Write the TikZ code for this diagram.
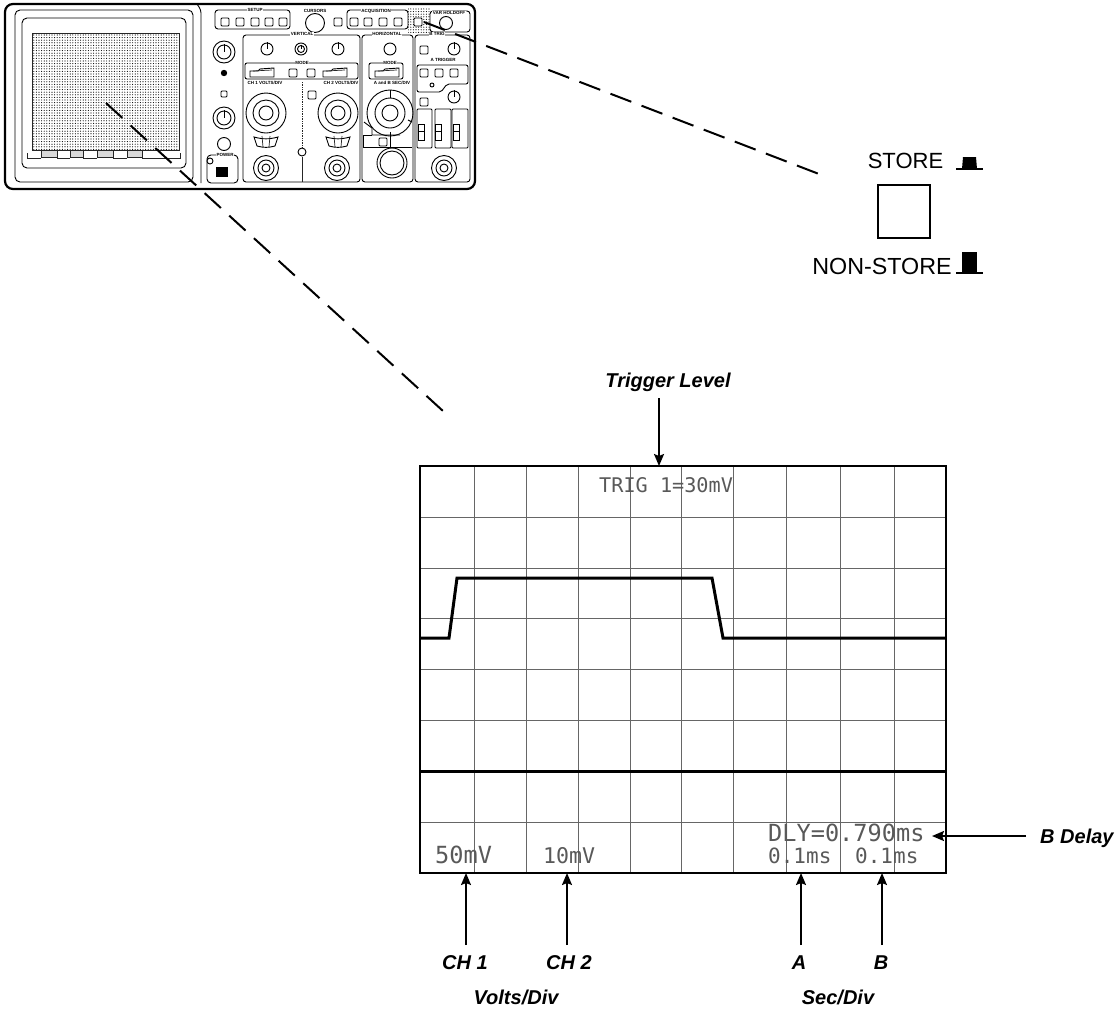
\documentclass[tikz,border=0pt]{standalone}
\usepackage{fontspec}
\setmainfont{Liberation Sans}
\newfontfamily\lcdfont{DejaVu Sans Mono}
\usetikzlibrary{arrows.meta,patterns.meta}
\tikzset{
  every picture/.style={x=1pt,y=-1pt},
  grida/.style={line width=1pt,black!60},
  trace/.style={line width=3pt,line join=miter},
  arr/.style={line width=1.8pt,-{Stealth[length=12pt,width=10pt,inset=2pt]}},
  dasha/.style={line width=2pt,dash pattern=on 22pt off 11.4pt},
  dashc/.style={line width=2pt,dash pattern=on 22.3pt off 11pt},
  lbl/.style={font=\fontsize{20}{22}\selectfont\bfseries\itshape,inner sep=0pt},
  plain/.style={font=\fontsize{#1}{26}\selectfont,inner sep=0pt},
  lcd/.style={font=\lcdfont\fontsize{#1}{24}\selectfont,text=black!65,inner sep=0pt,anchor=base west},
  tiny/.style={font=\fontsize{4.5}{5}\selectfont\bfseries,inner sep=0.6pt,fill=white},
  pline/.style={line width=0.9pt},
  pthin/.style={line width=0.7pt,black!85},
}
\newcommand{\sqb}[2]{\draw[pline,rounded corners=1pt] (#1-4,#2-4) rectangle (#1+4,#2+4);}
\newcommand{\knb}[3]{\draw[pline] (#1,#2) circle[radius=#3]; \draw[pline] (#1,#2-#3-1) -- (#1,#2);}
\newcommand{\bnc}[2]{\draw[pline] (#1,#2) circle[radius=12.5] (#1,#2) circle[radius=8] (#1,#2) circle[radius=4];}
\newcommand{\bigk}[2]{\draw[pline] (#1,#2) circle[radius=20] (#1,#2) circle[radius=13] (#1,#2) circle[radius=7];
  \draw[pline] (#1-12,#2+24) -- (#1-9,#2+33) to[bend right=15] (#1+9,#2+33) -- (#1+12,#2+24) to[bend left=15] cycle;
  \draw[pthin] (#1-4,#2+23) -- (#1-3,#2+34) (#1+4,#2+23) -- (#1+3,#2+34);}
\newcommand{\slider}[2]{\draw[pline] (#1,#2+8) -- (#1,#2+2) -- (#1+8,#2+2) -- (#1+10,#2) -- (#1+24,#2-1) -- (#1+24,#2+8) -- cycle; \draw[pthin] (#1+3,#2+2) -- (#1+22,#2+1);}
\begin{document}
\begin{tikzpicture}
\useasboundingbox (0,0) rectangle (1118,1010);
% ---------- instrument ----------
\draw[line width=2.2pt,rounded corners=8pt] (5,4) rectangle (475,189);
\draw[pline,rounded corners=5pt] (15,10) rectangle (193,182);
\draw[pline,rounded corners=3pt] (197,4) -- (201,10) -- (201,183);
\draw[pline,rounded corners=5pt] (22,18) rectangle (186,168);
\path[pattern={Dots[distance=2.6pt,radius=0.56pt]},pattern color=black] (32,33) rectangle (179,150);
\draw[pthin] (32,33) rectangle (179,150);
\foreach \a/\b in {41/57,70/83,97/113,127/142} {\draw[pthin,fill=black!15] (\a,150) rectangle (\b,157);}
\draw[pthin] (27,153) -- (27,158) -- (41,158) (57,158) -- (70,158) (83,158) -- (97,158) (113,158) -- (127,158) (142,158) -- (180,158) -- (180,153);
% left column
\draw[pline] (224,52) circle[radius=11]; \knb{224}{52}{7}
\fill (224,73) circle[radius=3.2];
\draw[pline,rounded corners=1pt] (221,91) rectangle (227,97);
\draw[pline] (224,118) circle[radius=11]; \knb{224}{118}{7}
\draw[pline] (224,144) circle[radius=6.5];
% power
\draw[pline,rounded corners=4pt] (207,155) rectangle (238,183);
\node[tiny] (powerlab) at (225,155) {POWER};
\draw[pline,fill=white] (210,161) circle[radius=3];
\fill (216,167) rectangle (228,177);
% setup
\draw[pline,rounded corners=3pt] (215,10) rectangle (290,29);
\node[tiny] (setuplab) at (255,10) {SETUP};
\foreach \x in {225,240,255,269,283} {\sqb{\x}{22}}
\draw[pline] (315,23) circle[radius=9.5];
\node[tiny] (cursorlab) at (315,11) {CURSORS};
\sqb{338}{22}
% acquisition
\draw[pline,rounded corners=3pt] (347,10) rectangle (408,29);
\node[tiny] (acqlab) at (376,11) {ACQUISITION};
\foreach \x in {354,368,383,398} {\sqb{\x}{22}}
\path[pattern={Dots[distance=2.6pt,radius=0.56pt]},pattern color=black] (408,7) rectangle (430,32);
\fill[white] (414,18) rectangle (422,26);
\sqb{418}{22}
\draw[pline,rounded corners=3pt] (430,11) -- (470,11) -- (470,32) -- (430,32) -- cycle;
\node[tiny] (holdlab) at (449,13) {VAR HOLDOFF};
\draw[pline] (446,23) circle[radius=6.5];
% sections
\draw[pline,rounded corners=3pt] (243,35) rectangle (360,182);
\draw[pline,rounded corners=3pt] (362,35) rectangle (413,182);
\draw[pline,rounded corners=3pt] (415,35) rectangle (470,182);
\node[tiny] (vertlab) at (302,34) {VERTICAL};
\node[tiny] (horizlab) at (387,34) {HORIZONTAL};
\node[tiny] (btriglab) at (437,34) {B TRIG};
% vertical
\knb{267}{49}{6} \draw[pline] (301,49) circle[radius=6]; \knb{301}{49}{3.5} \knb{338}{49}{6}
\draw[pline,rounded corners=2pt] (245,63) rectangle (358,79);
\node[tiny] (modev) at (302,63) {MODE};
\slider{250}{69} \slider{323}{69}
\sqb{293}{73} \sqb{311}{73}
\node[tiny] (ch1lab) at (265,83) {CH 1 VOLTS/DIV};
\node[tiny] (ch2lab) at (341,83) {CH 2 VOLTS/DIV};
\sqb{312}{95}
\bigk{266}{113} \bigk{338}{113}
\bnc{266}{168} \bnc{337}{168}
\draw[pthin,densely dotted] (302,82) -- (302,147);
\draw[pline] (302,152) circle[radius=4];
\draw[pthin] (302,157) -- (302,182);
% horizontal
\draw[pline] (390,49) circle[radius=6];
\draw[pline,rounded corners=2pt] (369,63) rectangle (403,79);
\node[tiny] (modeh) at (390,63) {MODE};
\slider{375}{69}
\node[tiny] (ablab) at (392,83) {A and B SEC/DIV};
\draw[pline] (390,113) circle[radius=23] (390,113) circle[radius=15] (390,113) circle[radius=8];
\draw[pline] (390,90) -- (390,98);
\draw[pline] (364,122) -- (372,128) -- (372,135) -- (400,135) (408,120) -- (412,122);
\draw[pline] (363,135) -- (363,147) -- (412,147);
\draw[pline] (363,135) -- (372,135);
\draw[pline] (390,132) -- (390,147);
\sqb{383}{142}
\draw[pline] (392,163) circle[radius=15] (392,163) circle[radius=12];
% trigger
\knb{454}{49}{6} \sqb{424}{50}
\draw[pline,rounded corners=2pt] (417,65) -- (468,65) -- (468,84) -- (447,84) -- (441,92) -- (417,92) -- cycle;
\node[tiny] (atriglab) at (443,60) {A TRIGGER};
\sqb{424}{73} \sqb{439}{73} \sqb{454}{73}
\draw[pline] (432,85) circle[radius=2];
\sqb{424}{102} \knb{454}{97}{6}
\foreach \a/\b in {417/432,435/451,452/468} {\draw[pline,rounded corners=1pt] (\a,109) -- (\a,148) -- (\b,148) -- (\b,109) -- cycle;}
\foreach \x in {421,438,456} {\draw[pline,fill=white] (\x-3,124) rectangle (\x+3,140); \draw[pline] (\x-3,131) -- (\x+3,131);}
\bnc{444}{168}
% ---------- dashed leaders ----------
\coordinate (leadA) at (106,103);
\coordinate (leadB) at (443,411);
\coordinate (leadC) at (424,22);
\coordinate (leadD) at (819,174);
\draw[dasha] (leadA) -- (leadB);
\draw[dashc] (leadC) -- (leadD);
% ---------- store button ----------
\node[draw,line width=2pt,minimum width=52pt,minimum height=53pt,inner sep=0pt] (storebtn) at (903.5,211) {};
\node[plain=22,anchor=base] (store) at (905.5,168) {STORE};
\node[plain=23.3,anchor=base] (nonstore) at (882,274) {NON-STORE};
\draw[line width=1.5pt] (956,169) -- (983,169);
\fill (962,169) -- (963,157) -- (976,157) -- (977,169) -- cycle;
\draw[line width=1.5pt] (956,273) -- (983,273);
\fill (962,273) -- (962,252) -- (977,252) -- (977,273) -- cycle;
% ---------- screen ----------
\foreach \x in {474,526,578,630,681,733,786,840,894} {\draw[grida] (\x,466) -- (\x,873);}
\foreach \y in {517,568,618,669,720,822} {\draw[grida] (420,\y) -- (946,\y);}
\draw[trace] (421,771.5) -- (946,771.5);
\draw[trace] (421,638) -- (449,638) -- (457,578) -- (712,578) -- (723,638) -- (946,638);
\node[draw,line width=2.2pt,minimum width=526pt,minimum height=407pt,inner sep=0pt] (scr) at (683,669.5) {};
\node[lcd=20.2] (trigtxt) at (599,492) {TRIG 1=30mV};
\node[lcd=23.6] (ch1val) at (435,863) {50mV};
\node[lcd=21.6] (ch2val) at (543,863) {10mV};
\node[lcd=23.6] (dlyval) at (768,841) {DLY=0.790ms};
\node[lcd=21] (aval) at (768,863) {0.1ms};
\node[lcd=21] (bval) at (855,863) {0.1ms};
% ---------- labels and arrows ----------
\node[lbl] (trigl) at (668,382) {Trigger Level};
\node[lbl] (ch1l) at (465,963) {CH 1};
\node[lbl] (ch2l) at (569,963) {CH 2};
\node[lbl] (al) at (799,963) {A};
\node[lbl] (bl) at (881,963) {B};
\node[lbl] (volts) at (516,997) {Volts/Div};
\node[lbl] (secs) at (838,997) {Sec/Div};
\node[lbl,anchor=west] (bdl) at (1040,838) {B Delay};
\coordinate (t1) at (659,398); \coordinate (t2) at (659,466);
\coordinate (c1a) at (466,945); \coordinate (c1b) at (466,873);
\coordinate (c2a) at (567,945); \coordinate (c2b) at (567,873);
\coordinate (aa) at (801,945); \coordinate (ab) at (801,873);
\coordinate (ba) at (882,945); \coordinate (bb) at (882,873);
\coordinate (da) at (1026,836); \coordinate (db) at (932,836);
\draw[arr] (t1) -- (t2);
\draw[arr] (c1a) -- (c1b);
\draw[arr] (c2a) -- (c2b);
\draw[arr] (aa) -- (ab);
\draw[arr] (ba) -- (bb);
\draw[arr] (da) -- (db);
\end{tikzpicture}
\end{document}
